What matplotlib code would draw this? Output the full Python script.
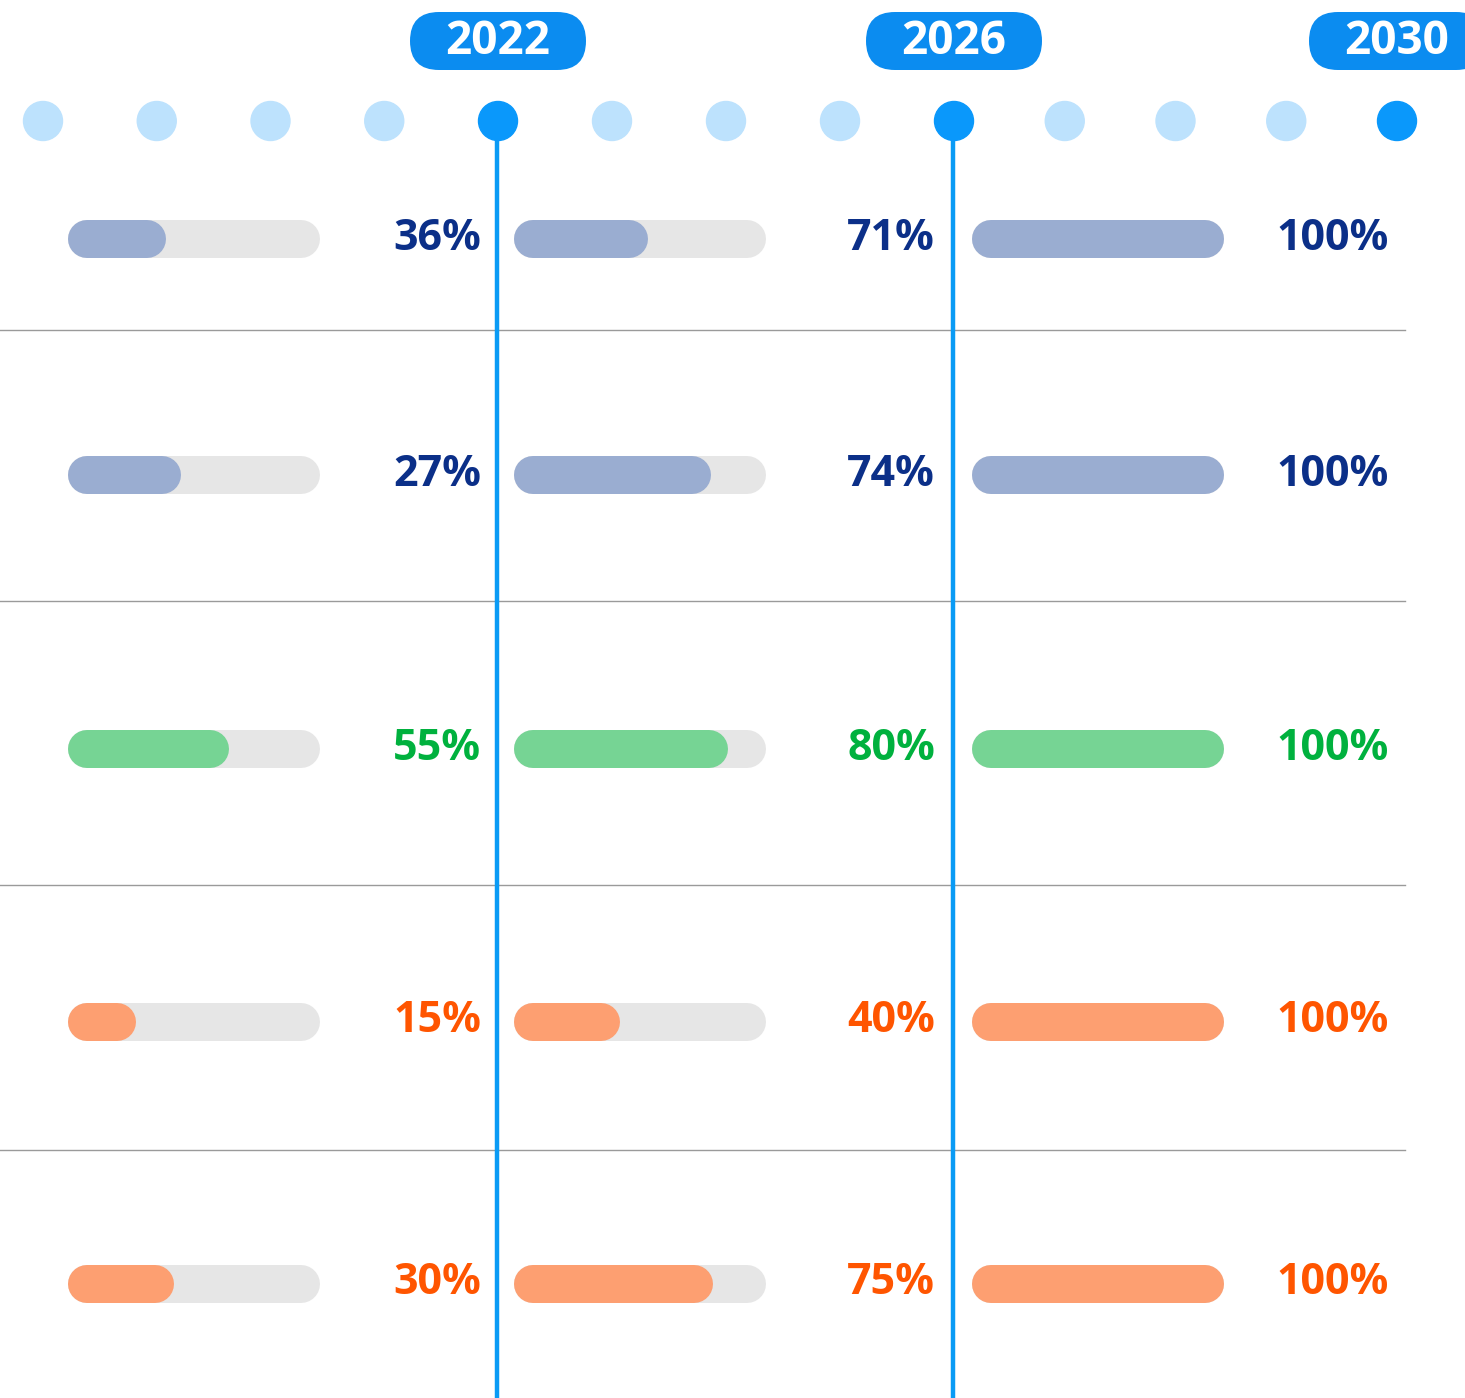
import numpy as np
import matplotlib.pyplot as plt
from matplotlib.patches import FancyBboxPatch, Circle

# timeline
years = list(range(2018, 2031))
milestones = [2022, 2026, 2030]

# percentage labels per row, one column per milestone
labels = [
    [36, 71, 100],
    [27, 74, 100],
    [55, 80, 100],
    [15, 40, 100],
    [30, 75, 100],
]
# filled share of each bar as drawn
fills = [
    [0.39, 0.53, 1.0],
    [0.45, 0.78, 1.0],
    [0.64, 0.85, 1.0],
    [0.27, 0.42, 1.0],
    [0.42, 0.79, 1.0],
]
row_kind = ['blue', 'blue', 'green', 'orange', 'orange']

fill_col = {'blue': '#9aadd1', 'green': '#76d494', 'orange': '#fd9f71'}
text_col = {'blue': '#0b2f88', 'green': '#00b13e', 'orange': '#ff5500'}
track_col = '#e6e6e6'
pill_col = '#0b8cf0'
dot_light = '#bde2fd'
dot_dark = '#0a98fb'
line_col = '#0a9bf5'

W, H = 1465, 1398
fig = plt.figure(figsize=(W / 100, H / 100), dpi=100)
ax = fig.add_axes([0, 0, 1, 1])
ax.set_xlim(0, W)
ax.set_ylim(H, 0)
ax.axis('off')

FONT = ['Open Sans', 'DejaVu Sans']
PX = 72 / 100  # points per pixel


def year_x(y):
    return np.interp(y, [2018, 2022, 2026, 2030], [43, 498, 954, 1397])


def pill_bar(x0, width, yc, h, color, z):
    # rounded bar drawn as a thick line with round caps
    r = h / 2
    x1 = x0 + max(width, h)
    ax.plot([x0 + r, x1 - r], [yc, yc], color=color, lw=h * PX,
            solid_capstyle='round', zorder=z)


# dots
dot_y = 121
for y in years:
    big = y in milestones
    ax.add_patch(Circle((year_x(y), dot_y), 19.5,
                        color=dot_dark if big else dot_light, zorder=3))

# pills + vertical lines
for y in milestones:
    cx = year_x(y)
    ax.add_patch(FancyBboxPatch((cx - 88, 12), 176, 58,
                                boxstyle='round,pad=0,rounding_size=29',
                                fc=pill_col, ec='none', zorder=3))
    ax.text(cx, 41, str(y), color='white', fontsize=33, fontweight='bold',
            family=FONT, ha='center', va='center', zorder=4)
    if y != milestones[-1]:
        ax.plot([cx - 1.5, cx - 1.5], [dot_y, H], color=line_col, lw=3.2,
                zorder=2, solid_capstyle='butt')

# separators
for sy in [330, 601, 885, 1150]:
    ax.plot([0, 1405], [sy, sy], color='#9a9a9a', lw=1.0, zorder=1)

# bars
row_y = [239, 475, 749, 1022, 1284]
bar_x0 = [68, 514, 972]
bar_w = 252
bar_h = 38
label_x = [481, 935, 1389]

for r, yc in enumerate(row_y):
    kind = row_kind[r]
    for c in range(3):
        x0 = bar_x0[c]
        pill_bar(x0, bar_w, yc, bar_h, track_col, 2)
        pill_bar(x0, bar_w * fills[r][c], yc, bar_h, fill_col[kind], 3)
        ax.text(label_x[c], yc - 1, f'{labels[r][c]}%', color=text_col[kind],
                fontsize=31, fontweight='bold', family=FONT,
                ha='right', va='center', zorder=4)

fig.savefig('out.png', dpi=100, facecolor='white')
